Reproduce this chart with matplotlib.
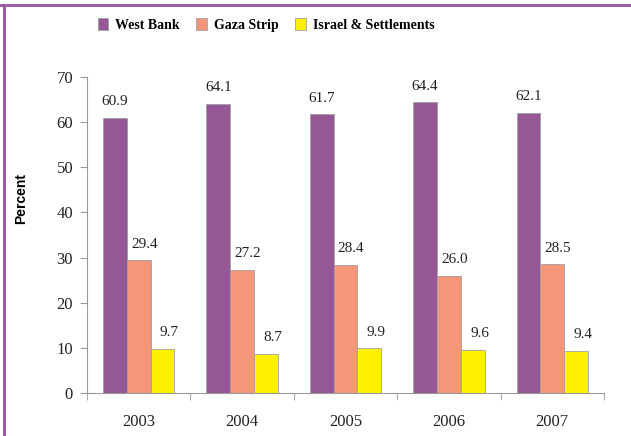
import matplotlib
matplotlib.use("Agg")
import matplotlib.pyplot as plt
import numpy as np
from matplotlib.lines import Line2D

years = ["2003", "2004", "2005", "2006", "2007"]
west_bank = [60.9, 64.1, 61.7, 64.4, 62.1]
gaza = [29.4, 27.2, 28.4, 26.0, 28.5]
israel = [9.7, 8.7, 9.9, 9.6, 9.4]
series_names = ["West Bank", "Gaza Strip", "Israel & Settlements"]
colors = ["#955795", "#F59679", "#FFF100"]
label_dx = [0, 4, 5]

fig = plt.figure(figsize=(6.31, 4.36), dpi=100)
ax = fig.add_axes([87/631, 43/436, 517/631, 316/436])

x = np.arange(len(years)) + 0.5
w = 0.23
serif = "Liberation Serif"
for i, (vals, c, name) in enumerate(zip([west_bank, gaza, israel], colors, series_names)):
    pos = x + (i - 1) * w
    ax.bar(pos, vals, w, color=c, edgecolor="#a0a0a0", linewidth=0.6, label=name, zorder=2)
    for p, v in zip(pos, vals):
        ax.annotate(f"{v:.1f}", (p, v), xytext=(label_dx[i], 7), textcoords="offset points",
                    ha="center", va="bottom", fontsize=11, family=serif, color="#222222")

ax.set_ylim(0, 70)
ax.set_xlim(0, 5)
ax.set_yticks(range(0, 71, 10))
ax.set_xticks(x)
ax.set_xticklabels(years)
ax.set_xticks(np.arange(0, 6), minor=True)
ax.tick_params(axis="x", which="major", length=0, pad=15)
ax.tick_params(axis="x", which="minor", length=5, color="#999999", direction="out")
ax.tick_params(axis="y", length=5, color="#999999", direction="out", pad=5)
for lab in ax.get_xticklabels() + ax.get_yticklabels():
    lab.set_fontfamily(serif)
    lab.set_fontsize(12)
    lab.set_color("#222222")
for s in ["top", "right"]:
    ax.spines[s].set_visible(False)
for s in ["left", "bottom"]:
    ax.spines[s].set_color("#999999")
    ax.spines[s].set_linewidth(0.8)

ax.set_ylabel("Percent", fontsize=10, fontweight="bold", family="Liberation Sans")
ax.yaxis.set_label_coords(-(87 - 28) / 517, (393 - 198) / 316)

leg = fig.legend(loc="center", bbox_to_anchor=(266/631, 1 - 25/436), ncol=3, frameon=False,
                 prop={"family": serif, "weight": "bold", "size": 10},
                 handlelength=0.75, handleheight=0.9, handletextpad=0.5, columnspacing=1.2)

fig.add_artist(Line2D([0, 1], [1 - 5/436, 1 - 5/436], transform=fig.transFigure, color="#9b5ca0", lw=2.2))
fig.add_artist(Line2D([4/631, 4/631], [0, 1 - 5/436], transform=fig.transFigure, color="#9b5ca0", lw=2.2))

fig.savefig("out.png", dpi=100)
